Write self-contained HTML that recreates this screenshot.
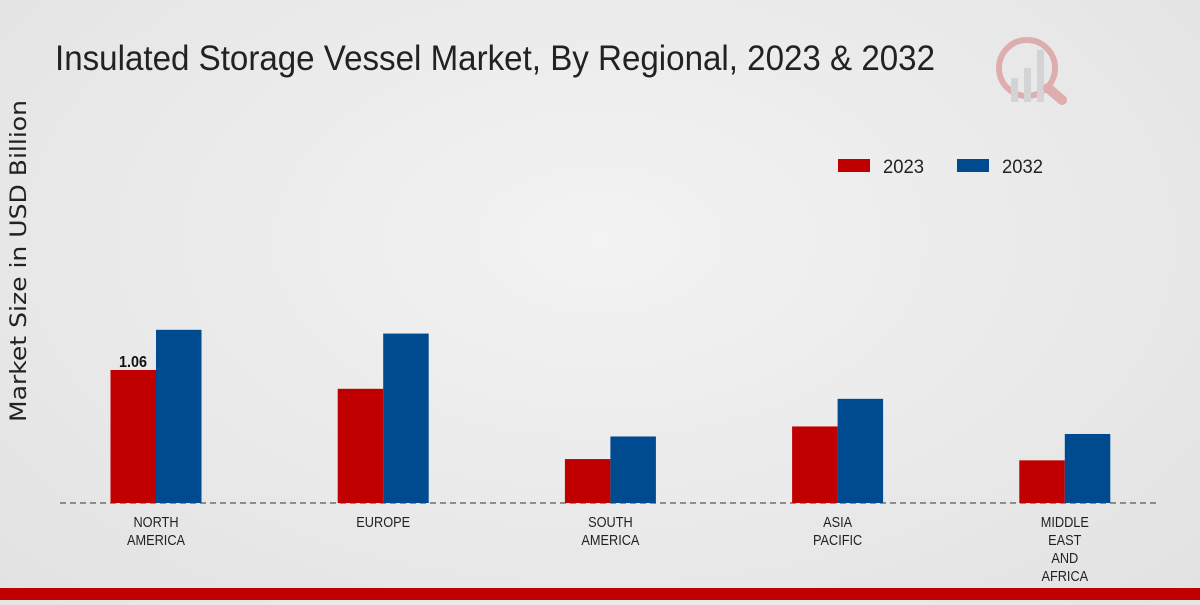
<!DOCTYPE html>
<html><head><meta charset="utf-8"><style>
body{margin:0;width:1200px;height:600px;overflow:hidden;background:radial-gradient(ellipse at 50% 40%,#f3f3f3,#e2e2e2);font-family:"Liberation Sans",sans-serif;}
</style></head><body>
<svg width="1200" height="600" id="c">
<text x="55" y="70" font-size="35" fill="#222" textLength="880" lengthAdjust="spacingAndGlyphs">Insulated Storage Vessel Market, By Regional, 2023 &amp; 2032</text>
<text transform="translate(26,261) rotate(-90)" text-anchor="middle" font-size="22" fill="#222" textLength="322" lengthAdjust="spacingAndGlyphs" style="font-family:'DejaVu Sans',sans-serif">Market Size in USD Billion</text>
<g>
<rect x="838" y="159" width="32" height="13" fill="#c00000"/>
<text x="883" y="173" font-size="19" fill="#222" textLength="41" lengthAdjust="spacingAndGlyphs">2023</text>
<rect x="957" y="159" width="32" height="13" fill="#004a8f"/>
<text x="1002" y="173" font-size="19" fill="#222" textLength="41" lengthAdjust="spacingAndGlyphs">2032</text>
</g>
<g opacity="0.25">
<circle cx="1027" cy="68" r="28" fill="none" stroke="#c00000" stroke-width="6"/>
<rect x="1011" y="78" width="7" height="24" fill="#999"/><rect x="1024" y="68" width="7" height="34" fill="#999"/><rect x="1037" y="50" width="7" height="52" fill="#999"/>
<line x1="1048" y1="88" x2="1062" y2="100" stroke="#c00000" stroke-width="10" stroke-linecap="round"/>
</g>
<line x1="60" y1="503" x2="1160" y2="503" stroke="#333" stroke-dasharray="6,4"/>
<g id="bars"></g><g id="labels"></g>
<rect x="0" y="588" width="1200" height="12" fill="#c00000"/>
</svg>
<script>
const categories=[["NORTH","AMERICA"],["EUROPE"],["SOUTH","AMERICA"],["ASIA","PACIFIC"],["MIDDLE","EAST","AND","AFRICA"]];
const values2023=[1.06,0.91,0.35,0.61,0.34];
const values2032=[1.38,1.35,0.53,0.83,0.55];
const ns="http://www.w3.org/2000/svg";
const base=503, scale=125.5;
const xc=i=>156+i*227.2;
const y=v=>base-v*scale;
const bars=document.getElementById('bars'),labels=document.getElementById('labels');
function bar(x,v,col,name){const r=document.createElementNS(ns,'rect');
r.setAttribute('x',x);r.setAttribute('y',y(v));r.setAttribute('width',45.5);r.setAttribute('height',base-y(v));r.setAttribute('fill',col);


bars.appendChild(r);}
categories.forEach((c,i)=>{
bar(xc(i)-45.5,values2023[i],'#c00000','bar-2023-'+i);
bar(xc(i),values2032[i],'#004a8f','bar-2032-'+i);
c.forEach((l,j)=>{const t=document.createElementNS(ns,'text');
t.setAttribute('transform','translate('+xc(i)+','+(527+j*18)+') scale(0.85,1)');
t.setAttribute('text-anchor','middle');t.setAttribute('font-size','15');t.setAttribute('fill','#222');
t.textContent=l;


labels.appendChild(t);});
});
const v=document.createElementNS(ns,'text');
v.setAttribute('transform','translate('+(xc(0)-23)+','+(y(values2023[0])-3)+') scale(0.9,1)');
v.setAttribute('text-anchor','middle');v.setAttribute('font-size','16');v.setAttribute('font-weight','bold');v.setAttribute('fill','#111');
v.textContent=values2023[0].toFixed(2);


labels.appendChild(v);
</script>
</body></html>
